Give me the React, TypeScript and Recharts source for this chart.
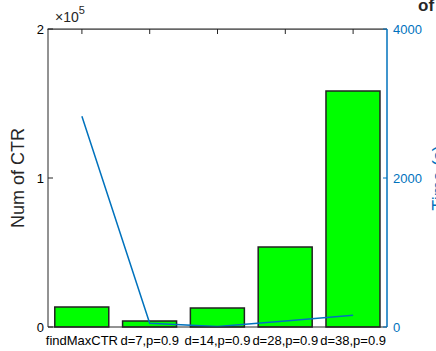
import React from "react";
import { ComposedChart, Bar, Line, XAxis, YAxis } from "recharts";

const categories = ["findMaxCTR", "d=7,p=0.9", "d=14,p=0.9", "d=28,p=0.9", "d=38,p=0.9"];
const ctrCounts = [13400, 4000, 12800, 53700, 158400];
const timeSec = [2830, 50, 8, 80, 158];
const leftTicks = [0, 100000, 200000];
const rightTicks = [0, 2000, 4000];

const data = categories.map((name, i) => ({ name, ctr: ctrCounts[i], time: timeSec[i] }));

const CHART_W = 436;
const CHART_H = 351;
const PLOT_TOP = 29;
const LEFT_W = 48;
const RIGHT_W = 49;
const DARK = "#262626";
const BLUE = "#0072BD";
const FONT = "'Liberation Sans', Arial, Helvetica, sans-serif";
const TM = 4;
const TL = 5;

const LeftTick = (props: any) => {
  const { x, y, payload } = props;
  const ax = x + TM;
  return (
    <g>
      <rect x={ax} y={y - 0.5} width={TL} height={1} fill={DARK} />
      <text x={x} y={y} dy="0.355em" textAnchor="end" fontSize={13} fill="#000" fontFamily={FONT}>
        {String(payload.value / 100000)}
      </text>
    </g>
  );
};

const RightTick = (props: any) => {
  const { x, y, payload } = props;
  const ax = x - TM - 2;
  return (
    <g>
      <rect x={ax - TL + 1} y={y - 0.5} width={TL - 1} height={1} fill={BLUE} />
      <text x={x} y={y} dy="0.355em" textAnchor="start" fontSize={13} fill={BLUE} fontFamily={FONT}>
        {String(payload.value)}
      </text>
    </g>
  );
};

const BottomTick = (props: any) => {
  const { x, y, payload } = props;
  return (
    <g>
      <rect x={x - 0.5} y={PLOT_TOP} width={1} height={TL} fill={DARK} />
      <text x={x} y={y} dy="0.71em" textAnchor="middle" fontSize={13} fill="#000" fontFamily={FONT}>
        {payload.value}
      </text>
    </g>
  );
};

const LeftLabel = (props: any) => {
  const vb = props.viewBox || {};
  const cx = vb.x + 18;
  const cy = vb.y + vb.height / 2;
  const left = vb.x + vb.width;
  return (
    <g>
      <rect x={left - 0.5} y={vb.y - 0.5} width={CHART_W - RIGHT_W - left + 0.5} height={1.2} fill={DARK} />
      <text x={cx} y={cy} transform={`rotate(-90 ${cx} ${cy})`} textAnchor="middle" dominantBaseline="central" fontSize={18} fill={DARK} fontFamily={FONT}>
        Num of CTR
      </text>
      <text x={left + 7} y={vb.y - 7} fontSize={14} fill={DARK} fontFamily={FONT}>
        ×10<tspan fontSize={11} dy={-8}>5</tspan>
      </text>
    </g>
  );
};

const RightLabel = (props: any) => {
  const vb = props.viewBox || {};
  const cx = vb.x + 52;
  const cy = vb.y + vb.height / 2;
  return (
    <g>
      <text x={cx} y={cy} transform={`rotate(-90 ${cx} ${cy})`} textAnchor="middle" dominantBaseline="central" fontSize={18} fill={BLUE} fontFamily={FONT}>
        Time (s)
      </text>
      <text x={vb.x + 31} y={vb.y - 18} fontSize={17} fontWeight="bold" fill={DARK} fontFamily={FONT}>
        of
      </text>
    </g>
  );
};

export default function App() {
  return (
    <div style={{ position: "absolute", left: 0, top: 0, width: CHART_W, height: CHART_H, background: "#fff" }}>
      <ComposedChart width={CHART_W} height={CHART_H} data={data} margin={{ top: PLOT_TOP, right: 0, bottom: 0, left: 0 }} barCategoryGap="10%">
        <XAxis
          xAxisId="bottom"
          dataKey="name"
          orientation="bottom"
          height={24}
          interval={0}
          tickLine={false}
          tickSize={0}
          tickMargin={9}
          axisLine={{ stroke: DARK, strokeWidth: 1 }}
          tick={<BottomTick />}
        />
        <YAxis
          yAxisId="left"
          orientation="left"
          width={LEFT_W}
          domain={[0, 200000]}
          ticks={leftTicks}
          interval={0}
          tickSize={0}
          tickMargin={TM}
          tickLine={false}
          axisLine={{ stroke: DARK, strokeWidth: 1 }}
          tick={<LeftTick />}
          label={<LeftLabel />}
        />
        <YAxis
          yAxisId="right"
          orientation="right"
          width={RIGHT_W}
          domain={[0, 4000]}
          ticks={rightTicks}
          interval={0}
          tickSize={0}
          tickMargin={TM + 2}
          tickLine={false}
          axisLine={{ stroke: BLUE, strokeWidth: 1.5 }}
          tick={<RightTick />}
          label={<RightLabel />}
        />
        <Bar xAxisId="bottom" yAxisId="left" dataKey="ctr" fill="#00ff00" stroke="#222" strokeWidth={1.5} isAnimationActive={false} />
        <Line xAxisId="bottom" yAxisId="right" dataKey="time" type="linear" stroke={BLUE} strokeWidth={1.5} dot={false} activeDot={false} isAnimationActive={false} />
      </ComposedChart>
    </div>
  );
}
